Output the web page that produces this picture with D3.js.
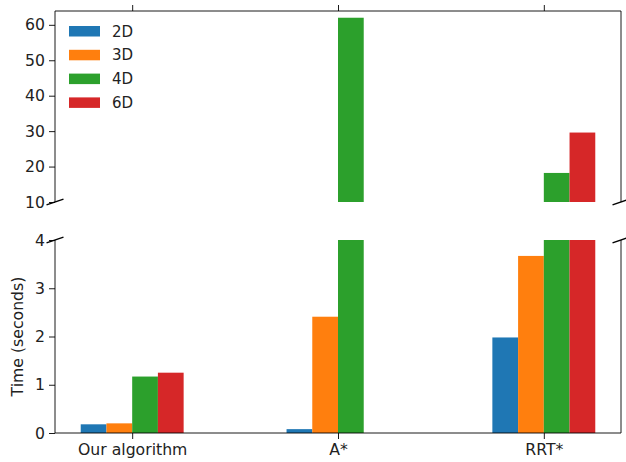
<!DOCTYPE html>
<html>
<head>
<meta charset="utf-8">
<script src="https://cdn.jsdelivr.net/npm/d3@7"></script>
<style>
  body { margin: 0; background: #fff; }
  svg text { font-family: "DejaVu Sans", sans-serif; }
</style>
</head>
<body>
<svg width="626" height="462"></svg>
<script>
// Data
const categories = ["Our algorithm", "A*", "RRT*"];
const seriesNames = ["2D", "3D", "4D", "6D"];
const colors = ["#1f77b4", "#ff7f0e", "#2ca02c", "#d62728"];
const values2D = [0.18, 0.08, 1.98];
const values3D = [0.20, 2.41, 3.67];
const values4D = [1.17, 62.0, 18.2];
const values6D = [1.25, 0, 29.6];
const topTicks = [10, 20, 30, 40, 50, 60];
const bottomTicks = [0, 1, 2, 3, 4];

const allSeries = [values2D, values3D, values4D, values6D];

const svg = d3.select("svg");
const fontSize = 15.7;

// Panel geometry
const left = 55, right = 621;
const topPanel = { y0: 11, y1: 202 };
const botPanel = { y0: 240, y1: 433 };

// Shared x scale (category index, matplotlib-like margins)
const barW = 0.125;
const x = d3.scaleLinear()
  .domain([-0.375, 2.375])
  .range([left, right]);

const yTop = d3.scaleLinear().domain([10, 63.9]).range([topPanel.y1, topPanel.y0]);
const yBot = d3.scaleLinear().domain([0, 4]).range([botPanel.y1, botPanel.y0]);

// Clip paths so bars stay inside their panel
const defs = svg.append("defs");
defs.append("clipPath").attr("id", "clipTop")
  .append("rect").attr("x", left).attr("y", topPanel.y0)
  .attr("width", right - left).attr("height", topPanel.y1 - topPanel.y0);
defs.append("clipPath").attr("id", "clipBot")
  .append("rect").attr("x", left).attr("y", botPanel.y0)
  .attr("width", right - left).attr("height", botPanel.y1 - botPanel.y0);

function drawBars(y, clipId) {
  const g = svg.append("g").attr("clip-path", `url(#${clipId})`);
  allSeries.forEach((vals, j) => {
    g.selectAll(null)
      .data(vals)
      .enter()
      .append("rect")
      .attr("x", (d, i) => x(i + (j - 2) * barW))
      .attr("width", x(barW) - x(0))
      .attr("y", d => y(d))
      .attr("height", d => Math.max(0, y(y.domain()[0]) - y(d)))
      .attr("fill", colors[j]);
  });
}

drawBars(yTop, "clipTop");
drawBars(yBot, "clipBot");

// Axes
function styleAxis(g) {
  g.attr("font-family", null).attr("font-size", null);
  g.select(".domain").remove();
  g.selectAll("line").attr("stroke", "#000").attr("stroke-width", 0.9);
  g.selectAll("text").attr("font-size", fontSize).attr("fill", "#222");
}

svg.append("g")
  .attr("transform", `translate(${left},0)`)
  .call(d3.axisLeft(yTop).tickValues(topTicks).tickSize(6).tickPadding(4).tickFormat(d3.format("d")))
  .call(styleAxis);

svg.append("g")
  .attr("transform", `translate(${left},0)`)
  .call(d3.axisLeft(yBot).tickValues(bottomTicks).tickSize(6).tickPadding(4).tickFormat(d3.format("d")))
  .call(styleAxis);

// x ticks on top of the upper panel (no labels)
svg.append("g")
  .attr("transform", `translate(0,${topPanel.y0})`)
  .call(d3.axisTop(x).tickValues([0, 1, 2]).tickSize(6).tickFormat(""))
  .call(styleAxis);

// x ticks + labels at the bottom
svg.append("g")
  .attr("transform", `translate(0,${botPanel.y1})`)
  .call(d3.axisBottom(x).tickValues([0, 1, 2]).tickSize(6).tickPadding(5)
    .tickFormat(i => categories[i]))
  .call(styleAxis);

// Spines
const spine = (x1, y1, x2, y2) => svg.append("line")
  .attr("x1", x1).attr("y1", y1).attr("x2", x2).attr("y2", y2)
  .attr("stroke", "#000").attr("stroke-width", 0.9);

spine(left, topPanel.y0, right, topPanel.y0);
spine(left, topPanel.y0, left, topPanel.y1);
spine(right, topPanel.y0, right, topPanel.y1);
spine(left, botPanel.y1, right, botPanel.y1);
spine(left, botPanel.y0, left, botPanel.y1);
spine(right, botPanel.y0, right, botPanel.y1);

// Break marks
const dx = 0.015 * (right - left);
[[left, topPanel.y1, topPanel], [right, topPanel.y1, topPanel],
 [left, botPanel.y0, botPanel], [right, botPanel.y0, botPanel]].forEach(([cx, cy, p]) => {
  const dy = 0.015 * (p.y1 - p.y0);
  svg.append("line")
    .attr("x1", cx - dx).attr("y1", cy + dy)
    .attr("x2", cx + dx).attr("y2", cy - dy)
    .attr("stroke", "#000").attr("stroke-width", 1.4);
});

// Y label
svg.append("text")
  .attr("transform", `translate(23,${(botPanel.y0 + botPanel.y1) / 2}) rotate(-90)`)
  .attr("text-anchor", "middle")
  .attr("font-size", fontSize)
  .attr("fill", "#222")
  .text("Time (seconds)");

// Legend
const legend = svg.append("g").attr("transform", `translate(69,26)`);
seriesNames.forEach((name, j) => {
  legend.append("rect")
    .attr("x", 0).attr("y", j * 23.8)
    .attr("width", 31).attr("height", 10.5)
    .attr("fill", colors[j]);
  legend.append("text")
    .attr("x", 43).attr("y", j * 23.8 + 10.5)
    .attr("font-size", 15)
    .attr("fill", "#222")
    .text(name);
});
</script>
</body>
</html>
